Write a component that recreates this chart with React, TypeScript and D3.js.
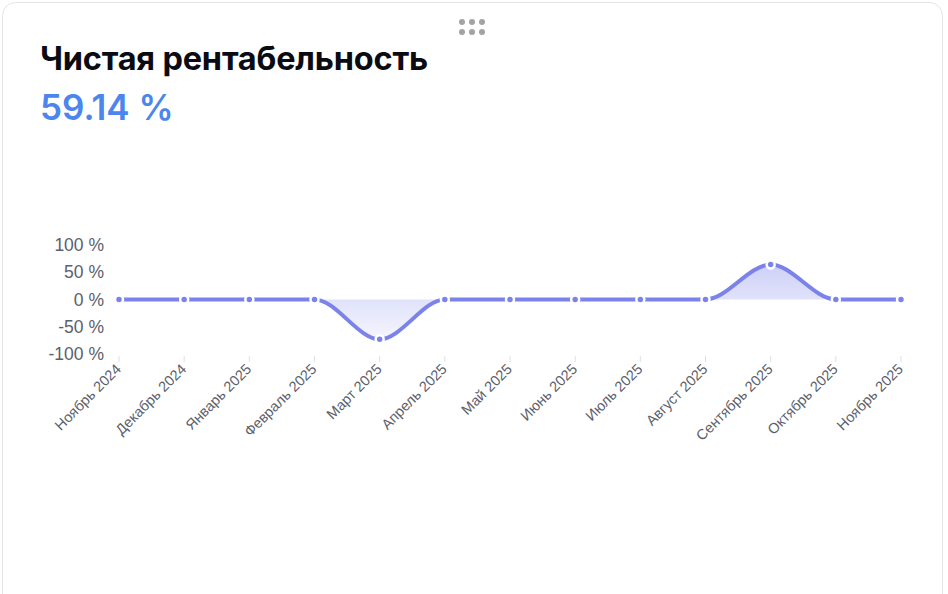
import React from "react";
import * as d3 from "d3";

const months = [
  "Ноябрь 2024", "Декабрь 2024", "Январь 2025", "Февраль 2025", "Март 2025",
  "Апрель 2025", "Май 2025", "Июнь 2025", "Июль 2025", "Август 2025",
  "Сентябрь 2025", "Октябрь 2025", "Ноябрь 2025",
];
const values = [0, 0, 0, 0, -73, 0, 0, 0, 0, 0, 64, 0, 0];
const yTicks = [100, 50, 0, -50, -100];
const title = "Чистая рентабельность";
const headline = "59.14 %";

const W = 948;
const H = 594;
const COLOR = "#7b83eb";

export default function App() {
  const x = d3.scalePoint<string>().domain(months).range([119, 901]);
  const y = d3.scaleLinear().domain([-100, 100]).range([354, 245]);
  const pts = months.map((m, i) => [x(m) as number, y(values[i])] as [number, number]);
  const line = d3.line<[number, number]>().x(d => d[0]).y(d => d[1]).curve(d3.curveMonotoneX);
  const area = d3.area<[number, number]>().x(d => d[0]).y0(y(0)).y1(d => d[1]).curve(d3.curveMonotoneX);
  const font = "Inter, 'Noto Sans', sans-serif";
  const axisFont = "'Liberation Sans', Arial, sans-serif";
  return (
    <svg width={W} height={H} style={{ position: "absolute", left: 0, top: 0 }} fontFamily={font}>
      <defs>
        <linearGradient id="fillg" x1="0" y1={y(100)} x2="0" y2={y(-100)} gradientUnits="userSpaceOnUse">
          <stop offset="0" stopColor={COLOR} stopOpacity={0.45} />
          <stop offset="1" stopColor={COLOR} stopOpacity={0.02} />
        </linearGradient>
      </defs>
      <rect x={0} y={0} width={W} height={H} fill="#fff" />
      <rect x={2.5} y={2.5} width={940} height={640} rx={13} fill="#fff" stroke="#e4e4e4" />
      {[0, 1, 2].map(i => [0, 1].map(j => (
        <circle key={`${i}-${j}`} cx={462 + i * 10} cy={22 + j * 10} r={3} fill="#a3a3a3" />
      )))}
      <text x={40} y={70} fontSize={32.5} fontWeight={700} fill="#0b0b14" letterSpacing={-0.2}>{title}</text>
      <text x={40} y={120} fontSize={35} fontWeight={600} fill="#4b86ef">{headline}</text>
      {yTicks.map(t => (
        <text key={t} x={104} y={y(t)} dy="0.35em" textAnchor="end" fontSize={17.5} fill="#5c606b" fontFamily={axisFont}>{`${t} %`}</text>
      ))}
      {months.map(m => (
        <g key={m}>
          <line x1={x(m)} x2={x(m)} y1={356} y2={362} stroke="#e0e0e0" strokeWidth={1} />
          <text transform={`translate(${(x(m) as number) + 3},${370}) rotate(-45)`} textAnchor="end" fontSize={14.5} fill="#5c606b" fontFamily={axisFont}>{m}</text>
        </g>
      ))}
      <path d={area(pts) || ""} fill="url(#fillg)" />
      <path d={line(pts) || ""} fill="none" stroke={COLOR} strokeWidth={4} strokeLinecap="round" />
      {pts.map((p, i) => (
        <circle key={i} cx={p[0]} cy={p[1]} r={4} fill={COLOR} stroke="#fff" strokeWidth={2.5} />
      ))}
    </svg>
  );
}
